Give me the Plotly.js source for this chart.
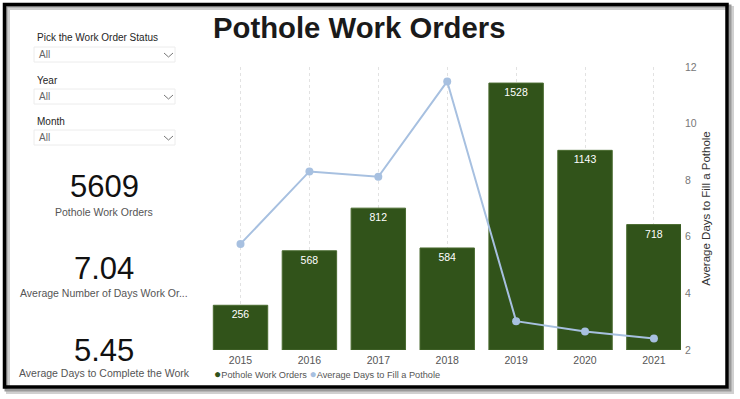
<!DOCTYPE html>
<html>
<head>
<meta charset="utf-8">
<script src="https://cdn.plot.ly/plotly-3.0.1.min.js"></script>
<style>
html,body{margin:0;padding:0;background:#fff;}
#chart{width:740px;height:399px;}
</style>
</head>
<body>
<div id="chart"></div>
<script>
// Data
const years = ['2015','2016','2017','2018','2019','2020','2021'];
const workOrders = [256, 568, 812, 584, 1528, 1143, 718];
const avgDaysFill = [5.75, 8.31, 8.12, 11.49, 3.02, 2.65, 2.41];
const rightTicks = [2, 4, 6, 8, 10, 12];
const kpiValues = ['5609', '7.04', '5.45'];
const kpiLabels = ['Pothole Work Orders', 'Average Number of Days Work Or...', 'Average Days to Complete the Work'];
const filterLabels = ['Pick the Work Order Status', 'Year', 'Month'];
const filterValues = ['All', 'All', 'All'];

const FONT = 'Liberation Sans, Arial, sans-serif';
const BAR = '#31531a';
const LINE = '#a7c0e0';

// pixel -> paper helpers (plot area x 200..681, y 67..350)
const L = 200, R = 681, T = 67, B = 350;
const px = x => (x - L) / (R - L);
const py = y => (B - y) / (B - T);

const traces = [
  {
    type: 'bar', x: years, y: workOrders, name: 'Pothole Work Orders',
    marker: {color: BAR, line: {color: '#4a6b30', width: 1}},
    text: workOrders.map(String), textposition: 'inside', insidetextanchor: 'end',
    textfont: {color: '#ffffff', size: 10.5, family: FONT},
    textangle: 0, showlegend: false, hoverinfo: 'x+y'
  },
  {
    type: 'scatter', mode: 'lines+markers', x: years, y: avgDaysFill, yaxis: 'y2',
    name: 'Average Days to Fill a Pothole',
    line: {color: LINE, width: 2}, marker: {color: LINE, size: 8},
    showlegend: false
  }
];

const annotations = [];
const shapes = [];

// Title
annotations.push({xref:'paper', yref:'paper', x: px(359), y: py(28), xanchor:'center', yanchor:'middle',
  text:'<b>Pothole Work Orders</b>', showarrow:false, font:{family:FONT, size:29.3, color:'#1a1a1a'}});

// Filters
const filterLabelY = [38, 80, 121];
const boxTop = [47, 89, 130];
filterLabels.forEach((lab, i) => {
  annotations.push({xref:'paper', yref:'paper', x: px(35), y: py(filterLabelY[i]), xanchor:'left', yanchor:'middle',
    text: lab, showarrow:false, font:{family:FONT, size:10, color:'#252525'}});
  shapes.push({type:'rect', xref:'paper', yref:'paper', x0:px(34), x1:px(175), y0:py(boxTop[i]), y1:py(boxTop[i]+15),
    line:{color:'#ececec', width:1}, fillcolor:'rgba(0,0,0,0)'});
  annotations.push({xref:'paper', yref:'paper', x: px(37), y: py(boxTop[i]+7.5), xanchor:'left', yanchor:'middle',
    text: filterValues[i], showarrow:false, font:{family:FONT, size:10, color:'#666'}});
  // chevron
  const cy = boxTop[i] + 6;
  shapes.push({type:'path', xref:'paper', yref:'paper',
    path:`M ${px(164)} ${py(cy)} L ${px(168.5)} ${py(cy+4)} L ${px(173)} ${py(cy)}`,
    line:{color:'#777', width:1}});
});

// KPIs
const kpiY = [186, 268, 350];
const kpiLabY = [211.5, 293, 373];
kpiValues.forEach((v, i) => {
  annotations.push({xref:'paper', yref:'paper', x: px(104), y: py(kpiY[i]), xanchor:'center', yanchor:'middle',
    text: v, showarrow:false, font:{family:FONT, size:31, color:'#111'}});
  annotations.push({xref:'paper', yref:'paper', x: px(104), y: py(kpiLabY[i]), xanchor:'center', yanchor:'middle',
    text: kpiLabels[i], showarrow:false, font:{family:FONT, size:10.5, color:'#555'}});
});

// Legend
annotations.push({xref:'paper', yref:'paper', x: px(212), y: py(374), xanchor:'left', yanchor:'middle',
  text: `<span style="color:${BAR};font-size:12px">●</span>Pothole Work Orders <span style="color:${LINE};font-size:12px">●</span>Average Days to Fill a Pothole`,
  showarrow:false, font:{family:FONT, size:9.2, color:'#555'}});

// Frame shadow + border
shapes.push({type:'rect', xref:'paper', yref:'paper', layer:'below', x0:px(8), x1:px(732), y0:py(8), y1:py(392),
  line:{color:'#d0d0d0', width:4}, fillcolor:'rgba(0,0,0,0)'});
shapes.push({type:'rect', xref:'paper', yref:'paper', layer:'below', x0:px(6), x1:px(730), y0:py(6), y1:py(390),
  line:{color:'#9a9a9a', width:3}, fillcolor:'rgba(0,0,0,0)'});
shapes.push({type:'rect', xref:'paper', yref:'paper', layer:'above', x0:px(4.5), x1:px(727), y0:py(4.5), y1:py(387),
  line:{color:'#000', width:3.5}, fillcolor:'rgba(0,0,0,0)'});

const layout = {
  width: 740, height: 399,
  margin: {l: L, r: 740 - R, t: T, b: 399 - B, pad: 0},
  paper_bgcolor: '#fff', plot_bgcolor: '#fff',
  font: {family: FONT, color: '#555'},
  bargap: 0.21,
  showlegend: false,
  xaxis: {
    type: 'category', range: [-0.588, 6.393],
    showgrid: true, gridcolor: '#e2e2e2', griddash: 'dot', gridwidth: 1,
    showline: false, zeroline: false, ticks: '',
    tickfont: {size: 10.5, color: '#555', family: FONT}, ticklabelstandoff: 2
  },
  yaxis: {range: [0, 1620], visible: false, showgrid: false, zeroline: false},
  yaxis2: {
    overlaying: 'y', side: 'right', range: [2, 12], tickvals: rightTicks,
    showgrid: false, zeroline: false, showline: false, ticks: '',
    tickfont: {size: 10.5, color: '#777', family: FONT}, ticklabelstandoff: 3,
    title: {text: 'Average Days to Fill a Pothole', font: {size: 11.5, color: '#333', family: FONT}, standoff: 6}
  },
  annotations: annotations,
  shapes: shapes
};

Plotly.newPlot('chart', traces, layout, {displayModeBar: false, staticPlot: true});
</script>
</body>
</html>
